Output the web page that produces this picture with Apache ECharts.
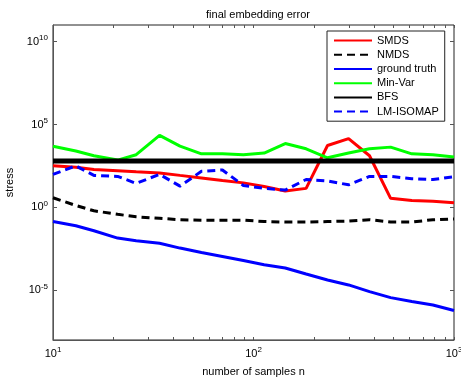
<!DOCTYPE html>
<html>
<head>
<meta charset="utf-8">
<script src="https://cdn.jsdelivr.net/npm/echarts@6/dist/echarts.min.js"></script>
<style>
  html, body { margin: 0; padding: 0; background: #fff; }
  #chart { width: 461px; height: 381px; }
</style>
</head>
<body>
<div id="chart"></div>
<script>
// number of samples (log-spaced, 20 points from 10 to 1000)
const samples = [10, 13, 16, 21, 26, 34, 43, 55, 70, 89, 113, 144, 183, 234, 298, 379, 483, 616, 785, 1000];

const smds = [3.2e2, 2.6e2, 1.9e2, 1.6e2, 1.4e2, 1.2e2, 85, 60, 42, 30, 18, 9.8, 14, 5.4e3, 1.4e4, 1.3e3, 3.5, 2.6, 2.3, 1.9];
const nmds = [3.8, 1.3, 0.62, 0.38, 0.27, 0.22, 0.18, 0.17, 0.17, 0.17, 0.14, 0.13, 0.13, 0.14, 0.15, 0.18, 0.13, 0.13, 0.18, 0.20];
const groundTruth = [0.14, 7.8e-2, 3.9e-2, 1.4e-2, 9.8e-3, 6.9e-3, 3.5e-3, 1.9e-3, 1.1e-3, 6.2e-4, 3.5e-4, 2.2e-4, 9.5e-5, 4.2e-5, 2.1e-5, 8.3e-6, 3.6e-6, 2.1e-6, 1.3e-6, 6.0e-7];
const minVar = [4.9e3, 2.5e3, 1.3e3, 7.1e2, 1.5e3, 2.2e4, 4.9e3, 1.7e3, 1.7e3, 1.5e3, 1.9e3, 7.1e3, 3.4e3, 9.8e2, 1.9e3, 3.4e3, 4.3e3, 1.7e3, 1.5e3, 1.1e3];
const bfs = [6.2e2, 6.2e2, 6.2e2, 6.2e2, 6.2e2, 6.2e2, 6.2e2, 6.2e2, 6.2e2, 6.2e2, 6.2e2, 6.2e2, 6.2e2, 6.2e2, 6.2e2, 6.2e2, 6.2e2, 6.2e2, 6.2e2, 6.2e2];
const lmIsomap = [98, 3.2e2, 85, 74, 28, 98, 19, 1.5e2, 1.8e2, 21, 14, 11, 48, 39, 23, 74, 74, 54, 48, 71];

const xTicks = [10, 20, 30, 40, 50, 60, 70, 80, 90, 100, 200, 300, 400, 500, 600, 700, 800, 900, 1000];
const xLabels = [10, 100, 1000];
const yLabels = [1e-5, 1, 1e5, 1e10];

const font = "'Liberation Sans', Arial, sans-serif";

function powerLabel(v) {
  const e = Math.round(Math.log10(v));
  return "{b|10}{s|" + e + "}";
}

const labelRich = {
  b: { fontSize: 11, fontFamily: font, color: "#000" },
  s: { fontSize: 8, fontFamily: font, color: "#000", padding: [0, 0, 7, 0] },
};

function pairs(values) {
  return samples.map((n, i) => [n, values[i]]);
}

const chart = echarts.init(document.getElementById("chart"));

const axisLine = { show: true, lineStyle: { color: "#555", width: 1 } };

chart.setOption({
  animation: false,
  backgroundColor: "#fff",
  title: {
    text: "final embedding error",
    left: 253,
    textAlign: "center",
    top: 4,
    textStyle: { fontSize: 11, fontWeight: "normal", fontFamily: font, color: "#000" },
  },
  grid: {
    left: 53, right: 7, top: 25, bottom: 41,
    outerBoundsMode: "none",
    show: true, borderColor: "#222", borderWidth: 1,
  },
  legend: {
    orient: "vertical",
    left: 327,
    top: 31,
    padding: [4, 6, 4, 6],
    itemGap: 3,
    itemWidth: 38,
    itemHeight: 14,
    borderColor: "#222",
    borderWidth: 1,
    backgroundColor: "#fff",
    itemStyle: { opacity: 0 },
    textStyle: { fontSize: 11, fontFamily: font, color: "#000" },
    data: ["SMDS", "NMDS", "ground truth", "Min-Var", "BFS", "LM-ISOMAP"],
  },
  xAxis: [
    {
      type: "log",
      logBase: 10,
      min: 10,
      max: 1000,
      name: "number of samples n",
      nameLocation: "middle",
      nameGap: 26,
      nameTextStyle: { fontSize: 11, fontFamily: font, color: "#000" },
      axisLine: axisLine,
      axisTick: { show: true, inside: true, length: 3, customValues: xTicks, lineStyle: { color: "#555" } },
      axisLabel: { customValues: xLabels, formatter: powerLabel, rich: labelRich, margin: 6 },
      splitLine: { show: false },
    },
    {
      type: "log",
      logBase: 10,
      min: 10,
      max: 1000,
      position: "top",
      axisLine: { show: false },
      axisTick: { show: true, inside: true, length: 3, customValues: xTicks, lineStyle: { color: "#555" } },
      axisLabel: { show: false },
      splitLine: { show: false },
    },
  ],
  yAxis: [
    {
      type: "log",
      logBase: 10,
      min: 1e-8,
      max: 1e11,
      name: "stress",
      nameLocation: "middle",
      nameGap: 36,
      nameTextStyle: { fontSize: 11, fontFamily: font, color: "#000" },
      axisLine: axisLine,
      axisTick: { show: true, inside: true, length: 4, customValues: yLabels, lineStyle: { color: "#555" } },
      axisLabel: { customValues: yLabels, formatter: powerLabel, rich: labelRich, margin: 5 },
      splitLine: { show: false },
    },
    {
      type: "log",
      logBase: 10,
      min: 1e-8,
      max: 1e11,
      position: "right",
      axisLine: { show: false },
      axisTick: { show: true, inside: true, length: 4, customValues: yLabels, lineStyle: { color: "#555" } },
      axisLabel: { show: false },
      splitLine: { show: false },
    },
  ],
  series: [
    { name: "SMDS", type: "line", data: pairs(smds), symbol: "none", lineStyle: { color: "#ff0000", width: 3 }, itemStyle: { color: "#ff0000" } },
    { name: "NMDS", type: "line", data: pairs(nmds), symbol: "none", lineStyle: { color: "#000", width: 3, type: [8, 5] }, itemStyle: { color: "#000" } },
    { name: "ground truth", type: "line", data: pairs(groundTruth), symbol: "none", lineStyle: { color: "#0000ff", width: 3 }, itemStyle: { color: "#0000ff" } },
    { name: "Min-Var", type: "line", data: pairs(minVar), symbol: "none", lineStyle: { color: "#00ff00", width: 3 }, itemStyle: { color: "#00ff00" } },
    { name: "BFS", type: "line", data: pairs(bfs), symbol: "none", lineStyle: { color: "#000", width: 5 }, itemStyle: { color: "#000" } },
    { name: "LM-ISOMAP", type: "line", data: pairs(lmIsomap), symbol: "none", lineStyle: { color: "#0000ff", width: 3, type: [8, 5] }, itemStyle: { color: "#0000ff" } },
  ],
});
</script>
</body>
</html>
